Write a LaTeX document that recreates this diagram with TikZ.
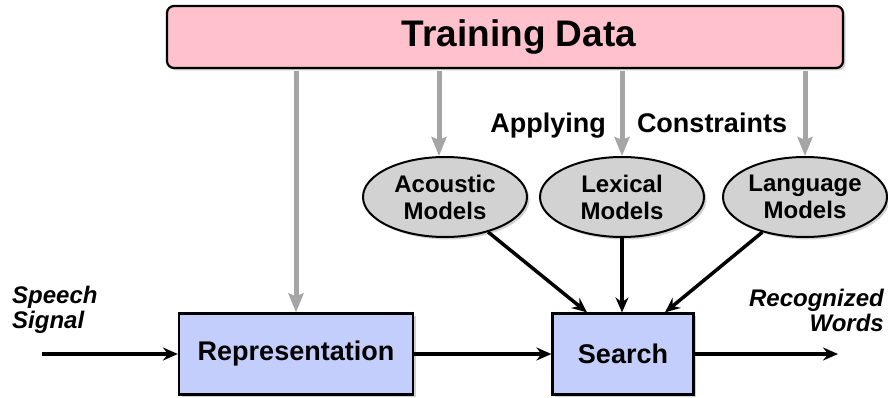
\documentclass[tikz,border=0pt]{standalone}
\usepackage{fontspec}
\setmainfont{Liberation Sans}
\usetikzlibrary{arrows.meta,shapes.geometric,shadows,calc}
\tikzset{
  diagram/.style={x=1pt, y=-1pt, font=\bfseries},
  soft-shadow/.style={drop shadow={shadow xshift=2.5pt, shadow yshift=-2.5pt, opacity=0.3, fill=black!60}},
  train-box/.style={
    rectangle, rounded corners=7pt, draw=black, line width=2.2pt,
    fill=trainpink, minimum width=676pt, minimum height=62pt, soft-shadow,
    font=\fontsize{37}{40}\selectfont\bfseries
  },
  proc-box/.style={
    rectangle, draw=black, line width=2.2pt, fill=procblue,
    minimum height=81pt, soft-shadow,
    font=\fontsize{27}{30}\selectfont\bfseries
  },
  model-node/.style={
    ellipse, draw=black, line width=2pt, fill=modelgray,
    minimum width=164pt, minimum height=80pt, inner sep=0pt, align=center, soft-shadow,
    font=\fontsize{24}{27}\selectfont\bfseries
  },
  io-label/.style={inner sep=0pt, font=\fontsize{24}{25}\selectfont\bfseries\itshape},
  note-label/.style={inner sep=0pt, font=\fontsize{27}{30}\selectfont\bfseries},
  feed-arrow/.style={draw=feedgray, line width=5pt, shorten <=1.5pt, -{Stealth[length=19pt, width=15pt, inset=3pt]}},
  flow-arrow/.style={draw=black, line width=3.5pt, -{Stealth[length=15pt, width=13pt, inset=5pt]}}
}
\definecolor{trainpink}{RGB}{255,194,204}
\definecolor{procblue}{RGB}{196,206,252}
\definecolor{modelgray}{RGB}{210,210,210}
\definecolor{feedgray}{RGB}{165,165,165}

\begin{document}
\begin{tikzpicture}[diagram]
  \useasboundingbox (0,0) rectangle (888,398);
  % Data and models
  \node[train-box] (train) at (505,37) {\hspace*{28pt}Training Data};
  \node[model-node] (acoustic) at (445,197) {Acoustic\\Models};
  \node[model-node] (lexical) at (622,197) {Lexical\\Models};
  \node[model-node] (language) at (805,197) {Language\\Models};
  % Processing boxes
  \node[proc-box, minimum width=234pt] (rep) at (296,354) {Representation};
  \node[proc-box, minimum width=141pt] (search) at (623,354) {Search};
  % Free ends
  \coordinate (speech-in) at (42,354);
  \coordinate (words-out) at (838,354);
  % Labels
  \node[io-label, anchor=west, align=left] (speech) at (12,310) {Speech\\Signal};
  \node[io-label, anchor=east, align=right] (words) at (884,310) {Recognized\\Words};
  \node[note-label, anchor=base] (applying) at (548,133) {Applying};
  \node[note-label, anchor=base] (constraints) at (712,133) {Constraints};
  % Training feeds
  \draw[feed-arrow] (rep.north |- train.south) -- (rep.north);
  \draw[feed-arrow] ([xshift=-6pt]acoustic.north |- train.south) -- ([xshift=-6pt]acoustic.north);
  \draw[feed-arrow] (lexical.north |- train.south) -- (lexical.north);
  \draw[feed-arrow] (language.north |- train.south) -- (language.north);
  % Into the search
  \draw[flow-arrow] (acoustic) -- ($(search.north)+(-36,0)$);
  \draw[flow-arrow] (lexical) -- (lexical |- search.north);
  \draw[flow-arrow] (language) -- ($(search.north)+(42,0)$);
  % Main flow
  \draw[flow-arrow] (speech-in) -- (rep);
  \draw[flow-arrow] (rep) -- (search);
  \draw[flow-arrow] (search) -- (words-out);
\end{tikzpicture}
\end{document}
